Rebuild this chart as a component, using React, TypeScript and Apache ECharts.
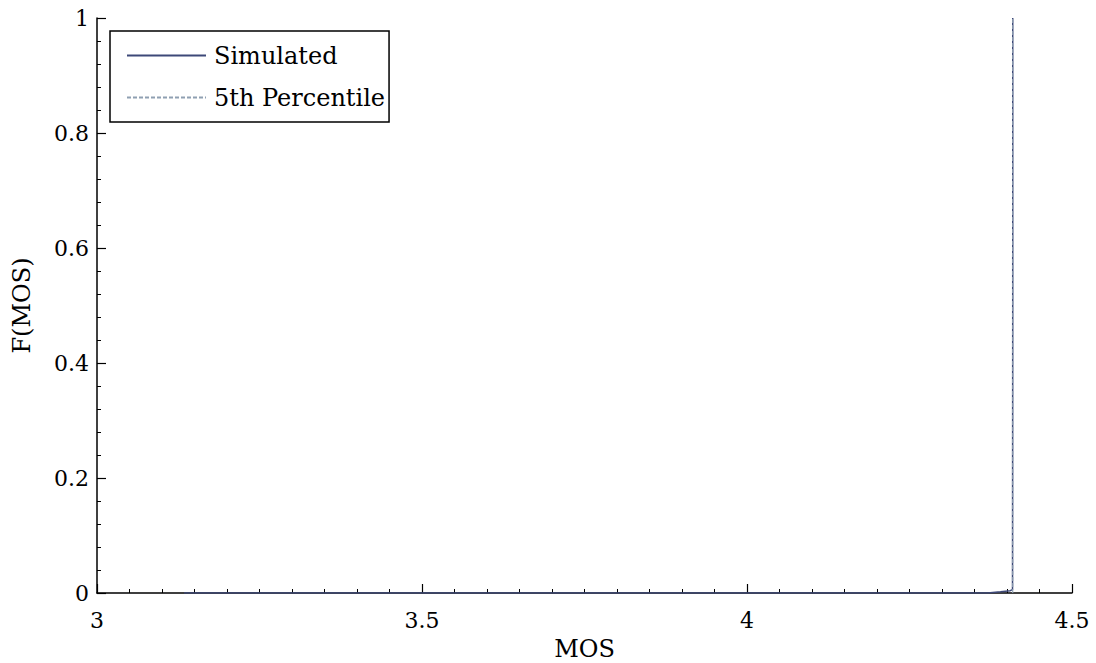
import React, { useEffect, useRef } from "react";
import * as echarts from "echarts";

const seriesNames = ["Simulated", "5th Percentile"];
const simulatedMos = [3.134, 4.37, 4.39, 4.405, 4.4085, 4.4088, 4.4088];
const simulatedCdf = [0, 0, 0.002, 0.004, 0.006, 0.5, 1];
const percentileMos = [4.4088, 4.4088];
const percentileCdf = [0, 1];
const xTicks = [3, 3.5, 4, 4.5];
const yTicks = [0, 0.2, 0.4, 0.6, 0.8, 1];

const FONT = "DejaVu Serif";

export default function App() {
  const ref = useRef<HTMLDivElement>(null);
  useEffect(() => {
    if (!ref.current) return;
    const chart = echarts.init(ref.current, undefined, { renderer: "svg" });
    const axisLine = { show: true, onZero: false, lineStyle: { color: "#000", width: 1.5 } };
    const axisTick = { show: true, inside: true, length: 9, lineStyle: { color: "#000", width: 1.2 } };
    const minorStyle = { show: true, length: 4, lineStyle: { color: "#000", width: 1 } };
    chart.setOption({
      animation: false,
      backgroundColor: "#fff",
      grid: { left: 97, right: 24, top: 18, bottom: 70, containLabel: false, outerBoundsMode: "none" },
      legend: {
        orient: "vertical",
        left: 110,
        top: 31,
        data: seriesNames,
        borderColor: "#000",
        borderWidth: 1.5,
        padding: [12, 4, 12, 16],
        itemWidth: 79,
        itemHeight: 14,
        itemGap: 17,
        itemStyle: { opacity: 0 },
        textStyle: { fontFamily: FONT, fontSize: 24, color: "#000", lineHeight: 25, padding: [0, 0, 0, 3] },
      },
      xAxis: {
        type: "value",
        min: 3,
        max: 4.5,
        interval: 0.5,
        name: "MOS",
        nameGap: 44,
        nameLocation: "middle",
        nameTextStyle: { fontFamily: FONT, fontSize: 24, color: "#000", lineHeight: 24 },
        axisLine,
        axisTick,
        splitLine: { show: false },
        minorTick: { ...minorStyle, splitNumber: 10 },
        axisLabel: {
          margin: 16,
          fontFamily: FONT,
          fontSize: 22,
          color: "#000",
          formatter: (v: number) => (xTicks.includes(v) ? String(v) : ""),
        },
      },
      yAxis: {
        type: "value",
        min: 0,
        max: 1,
        interval: 0.2,
        name: "F(MOS)",
        nameGap: 63,
        nameLocation: "middle",
        nameTextStyle: { fontFamily: FONT, fontSize: 24, color: "#000" },
        axisLine,
        axisTick,
        splitLine: { show: false },
        minorTick: { ...minorStyle, splitNumber: 5 },
        axisLabel: {
          margin: 8,
          fontFamily: FONT,
          fontSize: 22,
          color: "#000",
          formatter: (v: number) => {
            const t = yTicks.find((y) => Math.abs(y - v) < 1e-9);
            return t === undefined ? "" : String(t);
          },
        },
      },
      series: [
        {
          name: seriesNames[0],
          type: "line",
          symbol: "none",
          data: simulatedMos.map((x, i) => [x, simulatedCdf[i]]),
          lineStyle: { color: "#3d4878", width: 1.5 },
          itemStyle: { color: "#3d4878" },
          z: 3,
        },
        {
          name: seriesNames[1],
          type: "line",
          symbol: "none",
          data: percentileMos.map((x, i) => [x, percentileCdf[i]]),
          lineStyle: { color: "#8fa0b2", width: 1.2, type: [4, 2] },
          itemStyle: { color: "#8fa0b2" },
          z: 4,
        },
      ],
    });
    return () => chart.dispose();
  }, []);
  return <div ref={ref} style={{ width: 1096, height: 663, position: "absolute", left: 0, top: 0 }} />;
}
